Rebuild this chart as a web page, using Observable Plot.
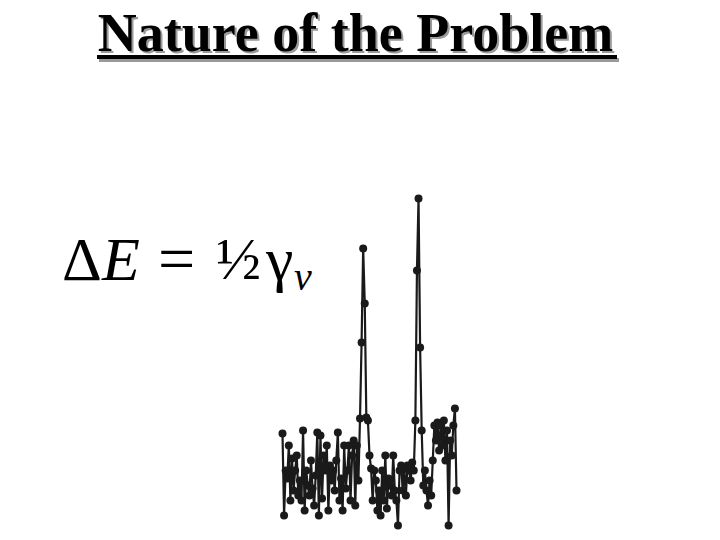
<!DOCTYPE html>
<html>
<head>
<meta charset="utf-8">
<script src="https://cdn.jsdelivr.net/npm/d3@7"></script>
<script src="https://cdn.jsdelivr.net/npm/@observablehq/plot@0.6"></script>
<style>
  html, body { margin: 0; padding: 0; background: #fff; }
  #stage { position: relative; width: 720px; height: 540px; overflow: hidden; background: #fff; }
  #title { position: absolute; left: 0; top: 6px; width: 711px; text-align: center;
    font-family: "Liberation Serif", serif; font-weight: bold; font-size: 54px; line-height: 54px;
    color: #000; text-shadow: 2px 2px 0 #9a9a9a; }
  #rule { position: absolute; left: 97px; top: 55px; width: 520px; height: 4px; background: #000;
    box-shadow: 2px 3px 0 #9a9a9a; }
  .eq { position: absolute; font-family: "Liberation Serif", serif; font-size: 62px; line-height: 62px; color: #000; top: 228px; }
  #chart { position: absolute; left: 0; top: 0; }
</style>
</head>
<body>
<div id="stage">
  <div id="chart"></div>
  <div id="title">Nature of the Problem</div>
  <div id="rule"></div>
  <div class="eq" style="left:62px">Δ</div>
  <div class="eq" style="left:102px;font-style:italic">E</div>
  <div class="eq" style="left:158px;font-size:66px">=</div>
  <div class="eq" style="left:216px;font-size:60px">½</div>
  <div class="eq" style="left:266px">γ</div>
  <div class="eq" style="left:294px;top:257px;font-size:40px;line-height:40px;font-style:italic">v</div>
</div>
<script>
// Signal intensity per channel (arbitrary units)
const intensity = [
  102,20,65,57,90,35,77,45,65,80,40,
  55,35,105,25,65,50,40,75,47,30,
  60,103,20,100,37,80,65,90,25,70,
  55,65,45,75,103,35,57,25,90,47,
  65,90,35,80,95,30,90,55,117,193,
  287,232,118,115,80,67,35,65,55,25,
  45,20,65,35,80,27,57,50,40,80,
  45,35,10,65,70,45,67,40,70,65,
  55,73,65,115,265,337,188,105,50,65,
  45,30,55,40,75,110,95,113,85,110,
  90,115,75,105,10,95,80,110,127,45
];
const channel = intensity.map((_, i) => i);
const data = channel.map((c, i) => ({ channel: c, intensity: intensity[i] }));

const plot = Plot.plot({
  width: 720,
  height: 540,
  margin: 0,
  x: { domain: [0, intensity.length - 1], range: [282, 456], axis: null },
  y: { domain: [0, 340], range: [535, 195], axis: null },
  marks: [
    Plot.line(data, { x: "channel", y: "intensity", stroke: "#1a1a1a", strokeWidth: 2.2 }),
    Plot.dot(data, { x: "channel", y: "intensity", r: 4, fill: "#1a1a1a", stroke: "none" })
  ]
});
document.getElementById("chart").appendChild(plot);
</script>
</body>
</html>
